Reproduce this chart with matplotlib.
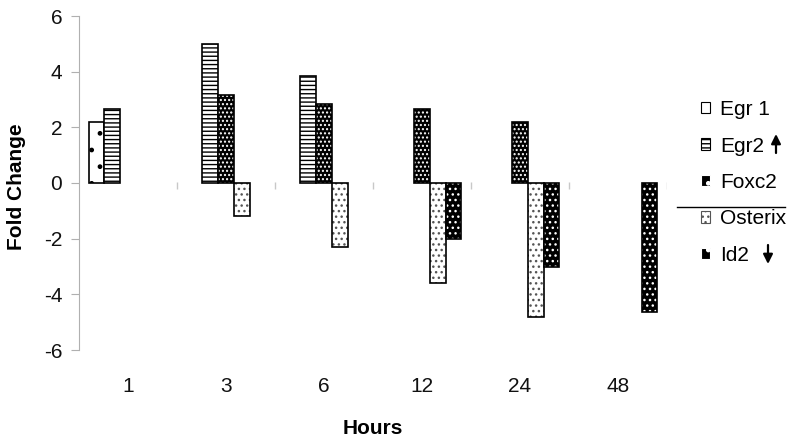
import matplotlib.pyplot as plt
import numpy as np
from matplotlib.lines import Line2D
from matplotlib.patches import Patch

plt.rcParams['font.family'] = ['Liberation Sans', 'DejaVu Sans']
plt.rcParams['hatch.linewidth'] = 1.0
plt.rcParams['axes.unicode_minus'] = False

# data (0 = no bar)
hours = ['1', '3', '6', '12', '24', '48']
genes = ['Egr 1', 'Egr2', 'Foxc2', 'Osterix', 'Id2']
egr1 = [2.2, 0, 0, 0, 0, 0]
egr2 = [2.65, 5.0, 3.85, 0, 0, 0]
foxc2 = [0, 3.15, 2.85, 2.65, 2.2, 0]
osterix = [0, -1.2, -2.3, -3.6, -4.8, 0]
id2 = [0, 0, 0, -2.0, -3.0, -4.65]
series = [egr1, egr2, foxc2, osterix, id2]

# face colour, hatch colour, hatch, legend hatch
styles = [('white', 'black', '.', '.'),
          ('white', 'black', '----', '----'),
          ('black', 'white', '....', '.'),
          ('white', '#555555', '...', '...'),
          ('black', 'white', '...', '.')]

fig = plt.figure(figsize=(8, 4.43), dpi=100)
ax = fig.add_axes([79/800, 1-350/443, (667-79)/800, (350-16)/443])

x = np.arange(len(hours))
w = 0.16
handles = []
for i, (vals, (fc, hc, h, lh)) in enumerate(zip(series, styles)):
    v = np.array(vals, dtype=float)
    m = v != 0
    pos = x[m] + (i - 2) * w
    ax.bar(pos, v[m], w, color=fc, edgecolor=hc, hatch=h, lw=0)
    ax.bar(pos, v[m], w, fill=False, edgecolor='black', lw=1.2)
    handles.append(Patch(facecolor=fc, edgecolor=hc, hatch=lh, lw=0.8))

ax.set_xlim(-0.5, len(hours) - 0.5)
ax.set_ylim(-6, 6)
ax.set_yticks(range(-6, 7, 2))
for s in ['top', 'right', 'bottom']:
    ax.spines[s].set_visible(False)
ax.spines['left'].set_color('#b0b0b0')
ax.tick_params(axis='y', direction='out', length=6, color='#b0b0b0',
               labelsize=15, pad=6, labelcolor='#111111')
ax.set_xticks([])

# small category boundary ticks on the zero line
bounds = np.arange(len(hours)) + 0.5
ax.vlines(bounds, -0.22, 0.03, color='#c8c8c8', lw=1)

for xi, lab in zip(x, hours):
    ax.text(xi, -7.3, lab, ha='center', va='center', fontsize=15,
            color='#111111', clip_on=False)

fig.text(373/800, 1-428/443, 'Hours', ha='center', va='center',
         fontsize=15, fontweight='bold')
fig.text(17/800, 1-187/443, 'Fold Change', ha='center', va='center',
         rotation=90, fontsize=15, fontweight='bold')

leg = fig.legend(handles, genes, loc='upper left',
                 bbox_to_anchor=(701/800, 1-100/443), frameon=False,
                 fontsize=15, handlelength=0.45, handleheight=0.45,
                 handletextpad=0.45, labelspacing=0.84, borderpad=0,
                 borderaxespad=0)

fig.add_artist(Line2D([677/800, 785/800], [1-207/443, 1-207/443],
                      transform=fig.transFigure, color='black', lw=1))
arrow = dict(arrowstyle='-|>', color='black', lw=1.6, mutation_scale=14,
             shrinkA=0, shrinkB=0)
ax.annotate('', xy=(776/800, 1-134/443), xytext=(776/800, 1-153/443),
            xycoords='figure fraction', arrowprops=arrow)
ax.annotate('', xy=(768/800, 1-264/443), xytext=(768/800, 1-245/443),
            xycoords='figure fraction', arrowprops=arrow)

fig.savefig('out.png', dpi=100)
